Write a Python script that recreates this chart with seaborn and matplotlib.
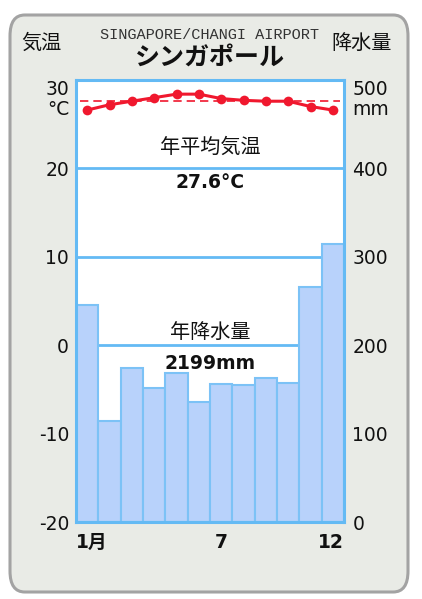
import matplotlib
matplotlib.use("Agg")
import matplotlib.pyplot as plt
from matplotlib.patches import FancyBboxPatch
from matplotlib.transforms import ScaledTranslation
import seaborn as sns
import pandas as pd

# monthly normals, Singapore / Changi Airport
months = list(range(1, 13))
temp_c = [26.6, 27.2, 27.6, 28.0, 28.4, 28.4, 27.9, 27.7, 27.6, 27.6, 27.0, 26.6]
precip_mm = [246, 114, 174, 152, 168, 136, 156, 155, 163, 157, 266, 315]
temp_ticks = [30, 20, 10, 0, -10, -20]
precip_ticks = [500, 400, 300, 200, 100, 0]
mean_temp = 27.6
total_precip = 2199

sns.set_theme(style="white")
plt.rcParams['font.family'] = ['DejaVu Sans', 'Noto Sans CJK JP']
jp = ['Noto Sans CJK JP', 'DejaVu Sans']

frame_col = "#64BAF4"
bar_fill = "#B8D2FB"
bar_edge = "#7CC2F6"
ink = "#111111"

df = pd.DataFrame({"month": months, "temp": temp_c, "precip": precip_mm})

fig = plt.figure(figsize=(4.22, 5.99), dpi=100)
fig.patch.set_facecolor("white")
panel = FancyBboxPatch((10 / 422, 7 / 599), 398 / 422, 577 / 599,
                       boxstyle="round,pad=0,rounding_size=0.035",
                       transform=fig.transFigure, facecolor="#E9EBE6",
                       edgecolor="#A3A3A3", linewidth=2.2, zorder=-10)
fig.patches.append(panel)

# axes box: x 76..344, y 80..522 px
ax = fig.add_axes([76 / 422, 1 - 522 / 599, 268 / 422, 442 / 599])
ax.set_facecolor("white")
ax2 = ax.twinx()

# precipitation bars (right scale)
sns.barplot(data=df, x="month", y="precip", ax=ax, width=1.0,
            color=bar_fill, edgecolor=bar_edge, linewidth=1.5,
            saturation=1, zorder=2)
ax.set_ylim(0, 500)
ax.set_xlim(-0.5, 11.5)
for y in [100, 200, 300, 400]:
    ax.axhline(y, color=frame_col, lw=2, zorder=1)
ax.set_xlabel("")
ax.set_ylabel("")
for s in ax.spines.values():
    s.set_color(frame_col)
    s.set_linewidth(2.2)

# temperature line (left scale)
sns.lineplot(x=list(range(12)), y=temp_c, ax=ax2, color="#F0182E", lw=2.2,
             marker="o", markersize=7, markeredgewidth=0, zorder=5)
ax2.axhline(mean_temp, xmin=0.015, xmax=0.985, color="#F0182E", lw=1.2,
            ls=(0, (5, 3)), zorder=4)
ax2.set_ylim(-20, 30)
ax2.set_xlim(-0.5, 11.5)
for s in ax2.spines.values():
    s.set_visible(False)
ax2.set_ylabel("")

# annotations inside the plot
ax2.text(5.5, 22.4, "年平均気温", ha="center", va="center", fontsize=14.5, family=jp, color=ink)
ax2.text(5.5, 18.4, f"{mean_temp}°C", ha="center", va="center", fontsize=13.5, fontweight="bold", color=ink)
ax2.text(5.5, 1.4, "年降水量", ha="center", va="center", fontsize=14.5, family=jp, color=ink)
ax2.text(5.5, -2.1, f"{total_precip}mm", ha="center", va="center", fontsize=13.5, fontweight="bold", color=ink)

# ticks: precipitation on the right, temperature on the left
ax.yaxis.tick_right()
ax.set_yticks(precip_ticks)
ax.set_yticklabels(["500\nmm" if t == 500 else str(t) for t in precip_ticks],
                   fontsize=13.5, color=ink)
ax.tick_params(axis="y", length=0, pad=6)
ax2.yaxis.tick_left()
ax2.set_yticks(temp_ticks)
ax2.set_yticklabels(["30\n°C" if t == 30 else str(t) for t in temp_ticks],
                    fontsize=13.5, color=ink)
ax2.tick_params(axis="y", length=0, pad=5)
for lab in ax2.get_yticklabels() + ax.get_yticklabels():
    if "\n" in lab.get_text():
        lab.set_verticalalignment("top")
        lab.set_linespacing(1.05)

ax.set_xticks([0, 6, 11])
ax.set_xticklabels(["1月", "7", "12"], fontsize=13.5, fontweight="bold", color=ink)
ax.tick_params(axis="x", length=0, pad=8)
ax2.tick_params(axis="x", length=0, labelbottom=False)
xl = ax.get_xticklabels()
xl[0].set_horizontalalignment("left")
xl[2].set_horizontalalignment("right")
xl[0].set_transform(xl[0].get_transform() + ScaledTranslation(-0.11, 0, fig.dpi_scale_trans))
xl[2].set_transform(xl[2].get_transform() + ScaledTranslation(0.11, 0, fig.dpi_scale_trans))

# headings
fig.text(210 / 422, 1 - 35 / 599, "SINGAPORE/CHANGI AIRPORT", ha="center", va="center",
         fontsize=11, family="Liberation Mono", color="#333333")
fig.text(210 / 422, 1 - 58 / 599, "シンガポール", ha="center", va="center",
         fontsize=18, fontweight="bold", family=jp, color=ink)
fig.text(41 / 422, 1 - 43 / 599, "気温", ha="center", va="center", fontsize=14.5, family=jp, color=ink)
fig.text(362 / 422, 1 - 43 / 599, "降水量", ha="center", va="center", fontsize=14.5, family=jp, color=ink)

fig.savefig("out.png", dpi=100)
